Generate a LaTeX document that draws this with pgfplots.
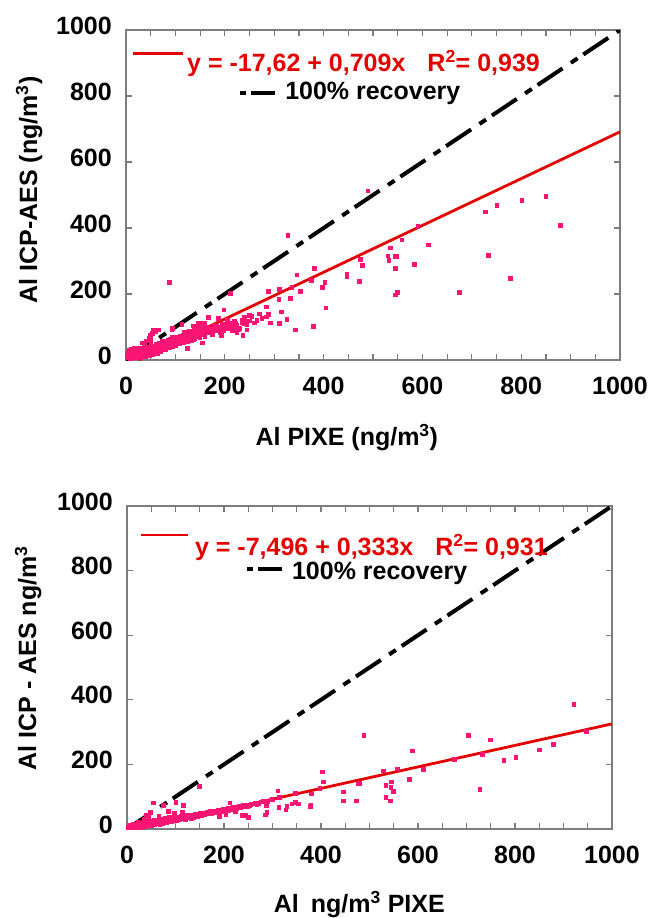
\documentclass[border=0pt]{standalone}
\usepackage{pgfplots}
\pgfplotsset{compat=1.18}
\usepackage{pgfplotstable}
\usepackage{fontspec}
\setmainfont{Liberation Sans}

\definecolor{ptpink}{RGB}{250,20,115}
\definecolor{fitred}{RGB}{228,0,0}
\definecolor{framegray}{RGB}{125,125,125}

% Al concentrations: PIXE (x) against ICP-AES (y), ng/m^3
\pgfplotstableread{
x y
490 512
850 495
802 484
751 468
728 449
880 408
591 404
612 348
559 364
535 339
530 315
545 313
547 313
532 302
545 278
584 289
549 205
546 197
734 317
778 247
675 205
328 378
88 234
475 305
479 287
473 238
447 260
447 253
381 278
376 241
346 257
403 234
398 220
405 158
379 102
353 207
336 219
333 186
311 214
310 184
289 207
285 161
288 138
293 112
311 111
315 145
326 123
343 91
212 202
198 152
198 101
225 84
237 75
245 91
250 134
240 130
235 120
239 109
205 121
193 74
188 125
168 128
160 111
175 81
153 111
137 103
140 99
113 108
94 96
66 91
61 86
55 81
49 74
155 51
125 34
32 51
41 58
38 48
50 60
47 66
53 81
56 91
93 93
113 108
147 111
167 128
187 126
3 18
6 22
9 12
11 26
13 16
16 9
19 30
21 18
23 8
5 15
8 10
10 20
12 8
14 18
15 12
17 25
18 6
20 14
20 22
22 10
24 18
25 28
26 12
28 20
30 8
30 16
32 24
33 12
35 20
36 30
38 14
40 22
40 10
42 28
44 18
45 35
46 24
48 14
50 20
50 30
52 26
54 38
55 16
56 32
58 22
60 28
60 40
62 34
64 20
65 45
66 30
68 38
70 26
70 48
72 34
74 42
75 30
76 55
78 38
80 46
80 32
82 50
84 40
85 60
86 44
88 36
90 52
92 46
94 58
95 40
96 64
98 50
100 56
100 44
102 68
104 52
106 60
108 48
110 72
112 58
114 66
116 52
118 78
120 62
122 70
124 56
126 82
128 66
130 74
132 60
134 88
136 70
138 78
140 64
142 92
145 76
148 84
150 68
152 96
155 80
158 88
160 72
165 100
168 84
170 92
175 78
178 104
180 88
185 96
190 82
195 108
200 94
205 112
210 100
215 88
220 118
225 104
230 96
240 122
245 108
255 132
265 120
270 140
2 10
4 6
4 22
6 14
7 28
8 18
9 5
10 14
11 32
12 22
13 10
14 28
16 16
17 34
18 20
19 12
21 26
22 36
23 16
24 30
26 22
27 36
28 12
29 28
31 20
32 34
34 26
35 14
37 38
39 26
41 18
43 32
44 40
47 28
49 36
51 44
53 30
57 42
59 34
61 48
63 26
67 50
69 32
71 40
73 56
77 46
79 30
81 56
83 44
87 54
89 62
91 40
93 70
97 48
99 62
103 56
107 70
109 64
111 52
115 74
117 62
119 84
121 54
123 76
127 60
129 86
131 68
135 78
137 62
139 90
141 72
143 82
147 70
149 96
151 80
157 76
159 98
163 84
167 94
171 86
177 92
183 102
187 88
193 98
197 90
203 104
207 96
213 110
218 98
223 112
228 92
235 114
250 118
260 112
275 125
285 130
}\dataA

\pgfplotstableread{
x y
922 385
489 290
704 290
750 275
589 241
675 216
733 231
777 213
802 222
850 245
879 261
948 302
728 123
611 185
583 154
558 186
529 179
534 135
545 145
544 129
549 117
534 98
543 87
476 141
479 141
473 87
447 115
447 87
403 177
405 146
398 126
381 108
379 74
378 69
347 110
347 83
354 77
340 77
328 59
330 69
311 118
313 67
314 98
288 72
289 52
285 44
244 41
237 41
250 36
212 80
225 59
224 54
204 45
197 57
150 131
117 73
123 44
114 53
101 83
98 49
75 73
85 55
55 80
66 40
169 50
191 38
24 20
40 41
49 51
35 30
45 38
3 6
5 3
6 9
8 4
10 7
11 12
12 3
14 8
15 5
17 11
18 6
20 9
21 4
22 14
24 7
25 11
27 5
28 9
30 13
31 7
33 10
35 16
36 8
38 12
40 15
41 9
43 18
45 12
46 22
48 15
50 10
51 19
53 14
55 24
56 17
58 12
60 20
62 15
63 27
65 18
67 22
68 14
70 21
72 30
73 17
75 24
77 20
79 33
80 25
82 18
84 28
86 22
88 36
90 27
92 23
94 31
96 26
98 38
100 30
102 25
105 34
108 28
110 36
112 31
115 42
118 34
120 30
122 38
125 35
128 44
130 37
133 33
135 40
138 36
140 46
143 41
146 38
150 45
153 42
156 48
160 44
163 50
166 46
170 52
174 48
178 54
182 50
186 56
190 53
195 58
200 55
205 62
210 58
216 64
222 61
228 68
234 66
240 72
248 70
256 76
265 80
272 78
280 85
2 4
4 8
5 12
7 6
9 10
10 3
12 15
13 7
16 13
17 4
19 16
20 12
23 10
24 16
26 8
27 18
29 12
30 6
32 18
34 12
37 20
39 14
42 24
44 16
47 20
49 13
52 24
54 18
57 26
59 16
61 24
64 20
66 28
69 18
71 26
74 21
76 30
78 23
81 28
83 24
85 32
87 26
91 30
93 28
95 36
97 30
101 33
103 28
106 36
109 32
111 40
114 33
117 38
119 36
123 40
126 37
129 42
132 38
136 44
139 41
142 38
145 46
148 42
152 48
155 44
158 50
162 47
165 52
168 48
172 54
176 51
180 56
184 53
188 58
193 55
198 60
203 57
208 64
214 61
220 66
226 63
232 70
238 68
245 74
252 72
260 78
268 76
276 84
290 86
300 92
}\dataB

\newcommand{\bigbf}{\fontsize{25}{30}\selectfont\bfseries}

\tikzset{
  recovline/.style={black, line width=4pt,
    dash pattern=on 30pt off 10pt on 8pt off 7pt},
  legrecov/.style={black, line width=4pt,
    dash pattern=on 6pt off 5pt on 24pt},
  fitline/.style={fitred, line width=2.8pt},
}

\pgfplotsset{
  panel/.style={
    scale only axis,
    xmin=0, xmax=1000, ymin=0, ymax=1000,
    xtick={0,200,...,1000},
    minor x tick num=3,
    ytick={0,200,...,1000},
    tick align=inside,
    axis line style={framegray, line width=1.4pt},
    every tick/.style={framegray, line width=1.2pt},
    major tick length=6pt, minor tick length=6pt,
    /pgf/number format/assume math mode=true,
    /pgf/number format/1000 sep={},
    tick label style={font=\bigbf, inner sep=0pt},
    xticklabel style={anchor=north, yshift=-17pt},
    yticklabel style={anchor=east, xshift=-14pt, yshift=4.5pt},
    label style={font=\bigbf},
  },
  pts/.style={only marks, color=ptpink, mark=square*, mark size=1.8pt,
    mark options={fill=ptpink, draw=ptpink, line width=0pt}},
}

\begin{document}
\begin{tikzpicture}
\useasboundingbox (0pt,0pt) rectangle (651pt,-918pt);

% upper panel
\begin{axis}[panel,
  at={(126pt,-360pt)}, anchor=south west,
  width=494pt, height=330pt,
  xlabel={Al PIXE (ng/m\textsuperscript{3})},
  ylabel={Al ICP-AES (ng/m\textsuperscript{3})},
  xlabel style={at={(axis description cs:0.447,-0.258)}, anchor=base},
  ylabel style={at={(axis description cs:-0.196,0.515)}, anchor=center},
]
\addplot[pts] table[x=x, y=y] {\dataA};
\addplot[recovline] coordinates {(0,0) (1000,1000)};
\addplot[fitline] coordinates {(24.85,0) (1000,691.38)};
\draw[fitline] (axis description cs:0.014,0.930) -- (axis description cs:0.115,0.930);
\node[anchor=base west, inner sep=0pt, text=fitred, font=\bigbf]
  at (axis description cs:0.1235,0.873)
  {y = -17,62 + 0,709x\hspace{22pt}R\textsuperscript{2}= 0,939};
\draw[legrecov] (axis description cs:0.231,0.809) -- (axis description cs:0.302,0.809);
\node[anchor=base west, inner sep=0pt, font=\bigbf]
  at (axis description cs:0.322,0.788) {100\% recovery};
\end{axis}

% lower panel
\begin{axis}[panel,
  at={(127pt,-829pt)}, anchor=south west,
  width=485pt, height=323pt,
  xlabel={Al\hspace{12pt}ng/m\textsuperscript{3} PIXE},
  ylabel={Al ICP - AES ng/m\textsuperscript{3}},
  xlabel style={at={(axis description cs:0.479,-0.260)}, anchor=base},
  ylabel style={at={(axis description cs:-0.204,0.529)}, anchor=center},
]
\addplot[pts] table[x=x, y=y] {\dataB};
\addplot[recovline] coordinates {(0,0) (1000,1000)};
\addplot[fitline] coordinates {(22.51,0) (1000,325.50)};
\draw[fitline] (axis description cs:0.029,0.910) -- (axis description cs:0.126,0.910);
\node[anchor=base west, inner sep=0pt, text=fitred, font=\bigbf]
  at (axis description cs:0.140,0.848)
  {y = -7,496 + 0,333x\hspace{22pt}R\textsuperscript{2}= 0,931};
\draw[legrecov] (axis description cs:0.247,0.805) -- (axis description cs:0.322,0.805);
\node[anchor=base west, inner sep=0pt, font=\bigbf]
  at (axis description cs:0.340,0.771) {100\% recovery};
\end{axis}
\end{tikzpicture}
\end{document}
